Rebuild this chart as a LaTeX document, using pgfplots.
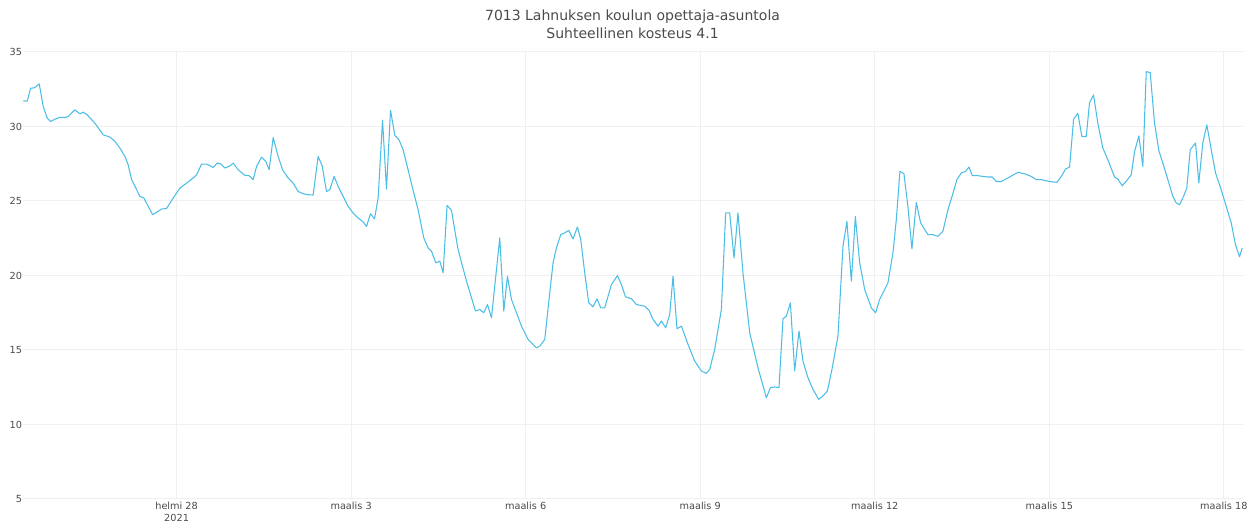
\documentclass[border=0pt]{standalone}
\usepackage{pgfplots}
\pgfplotsset{compat=1.18}
\usepackage{fontspec}
\setmainfont{DejaVu Sans}
\definecolor{linec}{RGB}{76,190,230}
\definecolor{gridc}{RGB}{240,240,240}
\definecolor{txt}{RGB}{75,75,75}
\pgfplotstableread{
d v
-2.636 31.72
-2.567 31.70
-2.509 32.57
-2.440 32.60
-2.361 32.86
-2.292 31.34
-2.223 30.56
-2.165 30.33
-2.091 30.49
-2.005 30.62
-1.919 30.60
-1.863 30.67
-1.747 31.12
-1.662 30.85
-1.605 30.96
-1.536 30.78
-1.404 30.22
-1.261 29.44
-1.146 29.29
-1.060 29.00
-0.974 28.55
-0.888 27.99
-0.832 27.43
-0.773 26.43
-0.687 25.76
-0.631 25.31
-0.562 25.20
-0.488 24.64
-0.412 24.08
-0.344 24.24
-0.258 24.46
-0.172 24.50
-0.058 25.20
0.057 25.87
0.172 26.20
0.285 26.54
0.344 26.76
0.430 27.48
0.515 27.48
0.629 27.25
0.698 27.54
0.756 27.50
0.830 27.21
0.916 27.35
0.973 27.54
1.058 27.10
1.174 26.72
1.247 26.70
1.316 26.43
1.375 27.32
1.460 27.95
1.534 27.65
1.591 27.10
1.660 29.26
1.746 27.99
1.821 27.10
1.918 26.54
2.003 26.21
2.089 25.64
2.175 25.49
2.261 25.42
2.347 25.40
2.433 27.99
2.502 27.36
2.577 25.64
2.634 25.76
2.708 26.65
2.777 25.98
2.863 25.31
2.948 24.64
3.034 24.19
3.120 23.86
3.196 23.63
3.265 23.30
3.333 24.15
3.402 23.80
3.464 25.20
3.540 30.42
3.608 25.80
3.677 31.10
3.751 29.40
3.825 29.10
3.893 28.44
3.979 27.10
4.060 25.80
4.151 24.42
4.249 22.52
4.323 21.85
4.381 21.63
4.455 20.85
4.524 20.96
4.581 20.18
4.649 24.71
4.725 24.37
4.838 21.74
4.983 19.62
5.137 17.62
5.211 17.72
5.280 17.50
5.344 18.05
5.412 17.16
5.555 22.52
5.624 17.61
5.687 19.95
5.756 18.39
5.928 16.60
6.041 15.71
6.186 15.15
6.242 15.26
6.328 15.71
6.414 18.84
6.471 20.85
6.529 21.85
6.603 22.74
6.672 22.86
6.741 23.03
6.814 22.45
6.890 23.26
6.947 22.41
7.015 20.18
7.084 18.17
7.158 17.90
7.227 18.44
7.290 17.83
7.359 17.83
7.474 19.39
7.577 19.99
7.646 19.39
7.715 18.57
7.818 18.44
7.904 18.05
8.046 17.94
8.120 17.67
8.189 17.05
8.275 16.60
8.333 16.94
8.407 16.49
8.476 17.38
8.533 19.95
8.601 16.43
8.677 16.60
8.790 15.38
8.905 14.26
9.021 13.59
9.107 13.43
9.163 13.70
9.249 15.04
9.364 17.72
9.438 24.20
9.507 24.20
9.581 21.18
9.649 24.20
9.735 20.18
9.851 16.16
9.993 13.81
10.137 11.80
10.206 12.47
10.280 12.52
10.354 12.47
10.423 17.09
10.481 17.27
10.550 18.17
10.624 13.59
10.698 16.27
10.766 14.26
10.852 13.14
10.938 12.36
11.036 11.69
11.110 11.91
11.186 12.25
11.265 13.70
11.368 15.93
11.454 21.96
11.522 23.63
11.598 19.62
11.667 23.97
11.741 20.85
11.827 19.06
11.942 17.83
12.015 17.50
12.084 18.39
12.170 19.06
12.227 19.51
12.313 21.52
12.371 23.75
12.433 26.99
12.502 26.83
12.570 24.64
12.639 21.79
12.715 24.91
12.789 23.53
12.914 22.74
13.000 22.74
13.086 22.63
13.172 22.97
13.258 24.42
13.344 25.50
13.412 26.43
13.488 26.88
13.562 26.99
13.619 27.28
13.677 26.70
13.773 26.70
13.859 26.65
13.945 26.61
14.021 26.61
14.089 26.31
14.175 26.31
14.318 26.61
14.460 26.92
14.576 26.83
14.691 26.65
14.777 26.43
14.863 26.43
15.005 26.31
15.131 26.25
15.206 26.65
15.280 27.14
15.349 27.28
15.418 30.49
15.491 30.89
15.560 29.33
15.636 29.33
15.692 31.60
15.761 32.12
15.835 30.22
15.921 28.55
16.007 27.77
16.122 26.61
16.179 26.47
16.254 26.02
16.333 26.38
16.409 26.76
16.466 28.32
16.540 29.37
16.608 27.32
16.667 33.68
16.735 33.62
16.809 30.22
16.883 28.39
16.952 27.54
17.038 26.43
17.124 25.31
17.182 24.87
17.239 24.75
17.308 25.31
17.364 25.87
17.423 28.44
17.514 28.89
17.570 26.21
17.639 28.89
17.708 30.11
17.784 28.44
17.858 26.88
17.955 25.76
18.041 24.64
18.127 23.53
18.201 22.07
18.270 21.25
18.316 21.85
}\rh
\begin{document}
\begin{tikzpicture}[x=1pt,y=1pt]
\useasboundingbox (0,0) rectangle (942.75,395.25);
\node[text=txt, font=\fontsize{10.5pt}{12pt}\selectfont] at (474.4,382.5) {7013 Lahnuksen koulun opettaja-asuntola};
\node[text=txt, font=\fontsize{10.5pt}{12pt}\selectfont] at (474.4,370.3) {Suhteellinen kosteus 4.1};
\begin{axis}[
  at={(17.25pt,21pt)}, anchor=south west,
  scale only axis, width=915pt, height=335.25pt,
  xmin=-2.64, xmax=18.33, ymin=5, ymax=35,
  axis line style={draw=none},
  major tick length=0pt,
  grid=major,
  grid style={gridc, line width=0.75pt},
  xtick={0,3,6,9,12,15,18},
  xticklabels={{helmi 28\\2021},maalis 3,maalis 6,maalis 9,maalis 12,maalis 15,maalis 18},
  ytick={5,10,...,35},
  /pgf/number format/assume math mode=true,
  tick label style={text=txt, font=\fontsize{7.3pt}{9pt}\selectfont, inner sep=0pt},
  xticklabel style={align=center, anchor=north, yshift=-2.5pt},
  yticklabel style={anchor=east, xshift=-0.5pt},
]
\addplot[linec, line width=0.8pt, line join=round, mark=none] table[x=d, y=v] {\rh};
\end{axis}
\end{tikzpicture}
\end{document}
